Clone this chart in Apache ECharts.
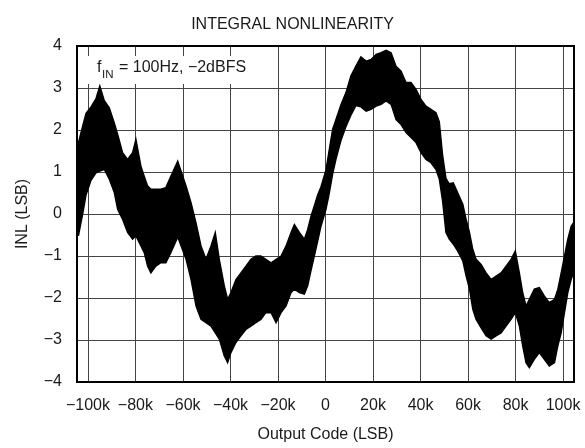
<!DOCTYPE html>
<html>
<head>
<meta charset="utf-8">
<script src="https://cdn.jsdelivr.net/npm/echarts@6/dist/echarts.min.js"></script>
<style>
  html, body { margin: 0; padding: 0; background: #fff; }
  #chart { width: 585px; height: 448px; }
</style>
</head>
<body>
<div id="chart"></div>
<script>
// output codes where the INL band edges were read
const codes = [
  -104000, -102200, -100800, -98700, -96600, -95000, -93100, -91000, -88900, -87500,
  -85400, -83300, -81200, -79800, -77700, -76300, -74900, -73500, -71400, -69300,
  -67200, -65100, -62200, -58700, -56600, -54500, -52400, -50300, -48200, -46400,
  -44700, -42600, -41200, -39800, -37700, -35600, -33500, -31400, -29300, -27200,
  -25100, -22900, -20800, -18700, -16600, -14500, -13100, -11000, -8900, -7500,
  -6100, -4700, -3300, -1900, 200, 1600, 3000, 4400, 6500, 8600,
  10700, 12800, 14900, 17100, 19200, 21300, 23400, 25500, 27600, 29700,
  31800, 33900, 36000, 38100, 40200, 42300, 44400, 46500, 47900, 49300,
  50700, 52100, 53800, 55600, 57800, 59200, 60600, 62000, 63400, 65500,
  67600, 69700, 71800, 73900, 76000, 78100, 79900, 81600, 83000, 84400,
  85800, 87900, 90000, 92100, 94200, 96400, 97800, 99200, 100600, 102000,
  103400, 104400
];

// upper edge of the INL band (LSB)
const inlMax = [
  1.70, 2.10, 2.40, 2.55, 2.75, 3.05, 2.70, 2.53, 2.17, 1.90,
  1.46, 1.30, 1.46, 1.78, 1.14, 0.90, 0.67, 0.59, 0.59, 0.59,
  0.63, 0.90, 1.26, 0.67, 0.27, -0.21, -0.76, -1.08, -0.76, -0.44,
  -1.08, -1.71, -2.03, -1.87, -1.56, -1.40, -1.24, -1.08, -1.00, -1.00,
  -1.08, -1.16, -1.08, -1.00, -0.76, -0.44, -0.25, -0.44, -0.60, -0.37,
  -0.05, 0.20, 0.45, 0.65, 1.05, 1.54, 2.02, 2.25, 2.60, 2.89,
  3.29, 3.52, 3.74, 3.64, 3.68, 3.80, 3.84, 3.90, 3.84, 3.52,
  3.40, 3.13, 3.13, 2.97, 2.73, 2.57, 2.49, 2.41, 2.20, 1.40,
  0.85, 0.72, 0.74, 0.51, 0.23, -0.13, -0.44, -0.84, -1.08, -1.20,
  -1.40, -1.56, -1.48, -1.40, -1.24, -1.08, -0.88, -1.40, -1.87, -2.19,
  -2.03, -1.79, -1.75, -1.95, -2.11, -2.03, -1.79, -1.40, -1.00, -0.60,
  -0.29, -0.21
];

// lower edge of the INL band (LSB)
const inlMin = [
  -0.52, 0.00, 0.45, 0.80, 0.98, 1.02, 1.06, 0.83, 0.51, 0.11,
  -0.13, -0.44, -0.60, -0.52, -0.76, -0.92, -1.24, -1.40, -1.24, -1.16,
  -1.16, -0.92, -0.55, -1.08, -1.56, -2.19, -2.51, -2.59, -2.67, -2.83,
  -2.98, -3.38, -3.54, -3.30, -3.06, -2.90, -2.75, -2.67, -2.59, -2.51,
  -2.35, -2.35, -2.59, -2.35, -2.19, -1.87, -1.79, -1.87, -1.91, -1.71,
  -1.35, -1.00, -0.65, -0.29, 0.11, 0.50, 0.95, 1.30, 1.75, 2.08,
  2.35, 2.58, 2.55, 2.45, 2.49, 2.57, 2.61, 2.69, 2.61, 2.25,
  2.13, 1.94, 1.82, 1.70, 1.46, 1.30, 1.22, 1.06, 0.83, 0.30,
  -0.44, -0.60, -0.72, -0.88, -1.12, -1.48, -1.79, -2.27, -2.51, -2.71,
  -2.90, -2.98, -2.90, -2.83, -2.67, -2.51, -2.35, -2.67, -3.14, -3.54,
  -3.66, -3.46, -3.30, -3.46, -3.62, -3.54, -3.14, -2.83, -2.35, -1.87,
  -1.56, -1.40
];

const FONT = 'Liberation Sans';
const TXT = '#1a1a1a';
const X_MIN = -104600, X_MAX = 104600;     // full plot width
const TICK_MIN = -100000, TICK_MAX = 100000, TICK_STEP = 20000;
const Y_MIN = -4, Y_MAX = 4;

// plot box in pixels
const PLOT_LEFT = 77, PLOT_RIGHT = 11, PLOT_TOP = 46, PLOT_BOTTOM = 66;
const plotW = 585 - PLOT_LEFT - PLOT_RIGHT;
// inner grid that spans exactly -100k..100k, so its ticks start on a round code
const innerLeft = PLOT_LEFT + plotW * (TICK_MIN - X_MIN) / (X_MAX - X_MIN);
const innerRight = PLOT_RIGHT + plotW * (X_MAX - TICK_MAX) / (X_MAX - X_MIN);

function minus(v) {
  return v < 0 ? '\u2212' + Math.abs(v) : String(v);
}
function kLabel(v) {
  if (v === 0) return '0';
  return (v < 0 ? '\u2212' : '') + Math.abs(v) / 1000 + 'k';
}

const rows = codes.map((c, i) => [c, inlMax[i], inlMin[i]]);

const chart = echarts.init(document.getElementById('chart'));

const option = {
  animation: false,
  backgroundColor: '#fff',
  title: {
    text: 'INTEGRAL NONLINEARITY',
    left: 'center',
    top: 12,
    textStyle: { fontFamily: FONT, fontSize: 16, fontWeight: 'normal', color: TXT }
  },
  grid: [
    {
      left: PLOT_LEFT, right: PLOT_RIGHT, top: PLOT_TOP, bottom: PLOT_BOTTOM,
      show: true, borderColor: '#000', borderWidth: 2, z: 3
    },
    {
      left: innerLeft, right: innerRight, top: PLOT_TOP, bottom: PLOT_BOTTOM
    }
  ],
  xAxis: [
    {
      gridIndex: 0,
      type: 'value',
      min: X_MIN,
      max: X_MAX,
      axisLine: { show: false },
      axisTick: { show: false },
      axisLabel: { show: false },
      splitLine: { show: false }
    },
    {
      gridIndex: 1,
      type: 'value',
      min: TICK_MIN,
      max: TICK_MAX,
      interval: TICK_STEP,
      name: 'Output Code (LSB)',
      nameLocation: 'middle',
      nameGap: 46,
      nameTextStyle: { fontFamily: FONT, fontSize: 16, color: TXT },
      axisLine: { show: false },
      axisTick: { show: false },
      axisLabel: {
        formatter: kLabel,
        margin: 17,
        hideOverlap: false,
        showMinLabel: true,
        showMaxLabel: true,
        fontFamily: FONT, fontSize: 16, color: TXT
      },
      splitLine: { show: true, lineStyle: { color: '#444', width: 1 } }
    }
  ],
  yAxis: [
    {
      gridIndex: 0,
      type: 'value',
      min: Y_MIN,
      max: Y_MAX,
      interval: 1,
      name: 'INL (LSB)',
      nameLocation: 'middle',
      nameGap: 46,
      nameTextStyle: { fontFamily: FONT, fontSize: 16, color: TXT },
      axisLine: { show: false },
      axisTick: { show: false },
      axisLabel: {
        formatter: minus,
        margin: 15,
        fontFamily: FONT, fontSize: 16, color: TXT
      },
      splitLine: { show: true, lineStyle: { color: '#444', width: 1 } }
    },
    {
      gridIndex: 1,
      type: 'value',
      min: Y_MIN,
      max: Y_MAX,
      show: false
    }
  ],
  series: [
    {
      type: 'custom',
      xAxisIndex: 0,
      yAxisIndex: 0,
      z: 5,
      data: rows,
      encode: { x: 0, y: [1, 2] },
      renderItem: function (params, api) {
        if (params.dataIndex !== 0) return null;
        // INL band between the upper and lower edges
        const pts = [];
        for (let i = 0; i < codes.length; i++) pts.push(api.coord([codes[i], inlMax[i]]));
        for (let i = codes.length - 1; i >= 0; i--) pts.push(api.coord([codes[i], inlMin[i]]));
        return {
          type: 'polygon',
          shape: { points: pts },
          style: { fill: '#000', stroke: '#000', lineWidth: 1.4, lineJoin: 'miter' }
        };
      }
    }
  ],
  graphic: [
    {
      type: 'rect', left: 79, top: 56, z: 100,
      shape: { width: 194, height: 28 },
      style: { fill: '#fff' }
    },
    {
      type: 'text', left: 97, top: 60, z: 101,
      style: { text: 'f', fontFamily: FONT, fontSize: 16, fill: TXT }
    },
    {
      type: 'text', left: 102, top: 69, z: 101,
      style: { text: 'IN', fontFamily: FONT, fontSize: 11.5, fill: TXT }
    },
    {
      type: 'text', left: 114.5, top: 60, z: 101,
      style: { text: ' = 100Hz, \u22122dBFS', fontFamily: FONT, fontSize: 16, fill: TXT }
    }
  ]
};

chart.setOption(option);
</script>
</body>
</html>
